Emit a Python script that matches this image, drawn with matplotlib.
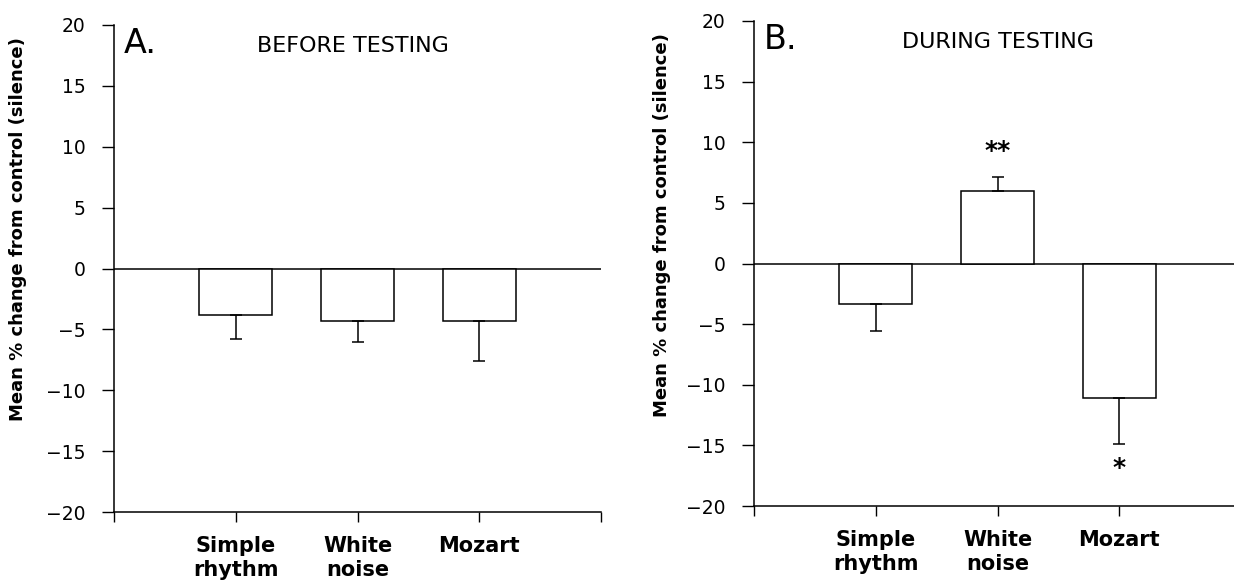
import numpy as np
import matplotlib
matplotlib.use("Agg")
import matplotlib.pyplot as plt

plt.rcParams['font.family'] = ['DejaVu Sans']

groups = ["Simple\nrhythm", "White\nnoise", "Mozart"]

# panel A: before testing
before_mean = [-3.8, -4.35, -4.3]
before_sem = [2.0, 1.7, 3.3]

# panel B: during testing
during_mean = [-3.3, 5.95, -11.1]
during_sem = [2.25, 1.2, 3.75]
during_marks = ["", "**", "*"]
mark_y = [0.0, 9.25, -16.85]

yticks = [20, 15, 10, 5, 0, -5, -10, -15, -20]

fig = plt.figure(figsize=(12.34, 5.84), dpi=100)
axA = fig.add_axes([114/1234, 1 - 512/584, 487/1234, 487/584])
axB = fig.add_axes([754/1234, 1 - 506/584, 487/1234, 485/584])


def draw_panel(ax, means, sems, letter, title, title_x, label_x):
    x = np.arange(1, len(means) + 1)
    ax.bar(x, means, width=0.6, color="white", edgecolor="black", linewidth=1.1, zorder=2)
    lower = [s if m < 0 else 0 for m, s in zip(means, sems)]
    upper = [s if m >= 0 else 0 for m, s in zip(means, sems)]
    ax.errorbar(x, means, yerr=[lower, upper], fmt="none", ecolor="black",
                elinewidth=1.1, capsize=4.3, capthick=1.1, zorder=3)
    ax.axhline(0, color="black", linewidth=1.1, zorder=1)

    ax.set_xlim(0, 4)
    ax.set_ylim(-20, 20)
    ax.set_yticks(yticks)
    ax.set_xticks([0, 1, 2, 3, 4])
    ax.set_xticklabels([""] + groups + [""], fontweight="bold", fontsize=15,
                       linespacing=1.3, va="top")
    ax.tick_params(axis="y", direction="out", length=8.5, width=1.0, pad=12, labelsize=13.5)
    ax.tick_params(axis="x", direction="out", length=7, width=1.0, pad=10)

    for s in ["top", "right"]:
        ax.spines[s].set_visible(False)
    for s in ["left", "bottom"]:
        ax.spines[s].set_linewidth(1.1)

    ax.set_ylabel("Mean % change from control (silence)", fontsize=13, fontweight="bold")
    ax.yaxis.set_label_coords(label_x, 0.58)

    ax.text(0.02, 0.995, letter, transform=ax.transAxes, fontsize=24, va="top", ha="left")
    ax.text(title_x, 0.978, title, transform=ax.transAxes, fontsize=16, va="top", ha="center")


draw_panel(axA, before_mean, before_sem, "A.", "BEFORE TESTING", 0.49, -0.178)
draw_panel(axB, during_mean, during_sem, "B.", "DURING TESTING", 0.50, -0.17)

for i, (m, yy) in enumerate(zip(during_marks, mark_y)):
    if m:
        axB.text(i + 1, yy, m, fontsize=18, fontweight="bold", ha="center", va="center")

fig.savefig("out.png", dpi=100)
